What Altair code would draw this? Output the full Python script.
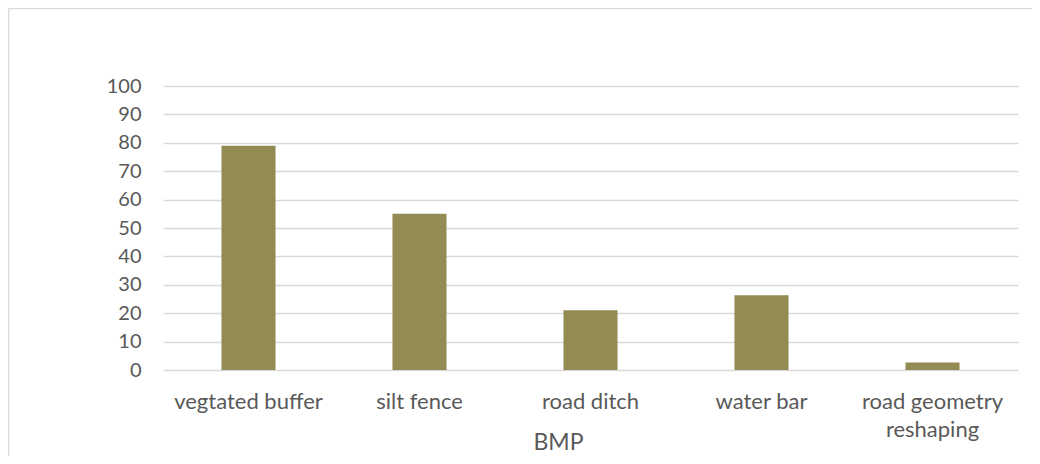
import altair as alt
import pandas as pd

categories = ["vegtated buffer", "silt fence", "road ditch", "water bar", "road geometry reshaping"]
values = [79, 55, 21, 26.3, 2.6]

df = pd.DataFrame({"BMP": categories, "value": values})

FONT = "Lato"
W, H = 855, 284
PL, PT, PB, PR = 155, 78, 86, 14

bars = alt.Chart(df).mark_bar(color="#948a54").encode(
    x=alt.X(
        "BMP:N",
        sort=categories,
        scale=alt.Scale(paddingInner=0.684, paddingOuter=0.342),
        axis=alt.Axis(
            title="BMP",
            labelAngle=0,
            labelFont=FONT,
            labelFontSize=22,
            labelColor="#595959",
            labelPadding=21,
            labelLineHeight=28,
            labelExpr="datum.value == 'road geometry reshaping' ? ['road geometry', 'reshaping'] : datum.value",
            titleFont=FONT,
            titleFontSize=23,
            titleFontWeight="normal",
            titleColor="#595959",
            titleX=395,
            titleY=79,
            titleBaseline="alphabetic",
            domain=False,
            ticks=False,
            grid=False,
        ),
    ),
    y=alt.Y(
        "value:Q",
        scale=alt.Scale(domain=[0, 100]),
        axis=alt.Axis(
            title=None,
            values=list(range(0, 101, 10)),
            labelFont=FONT,
            labelFontSize=20,
            labelColor="#595959",
            labelPadding=22,
            domain=False,
            ticks=False,
            grid=True,
            gridColor="#d9d9d9",
            gridWidth=1.5,
        ),
    ),
)

frame = pd.DataFrame({"a": [0]})
top_line = alt.Chart(frame).mark_rule(color="#d9d9d9", strokeWidth=1.5).encode(
    x=alt.value(-PL + 0.5),
    x2=alt.value(W + PR),
    y=alt.value(-PT + 0.5),
)
left_line = alt.Chart(frame).mark_rule(color="#d9d9d9", strokeWidth=1.5).encode(
    x=alt.value(-PL + 0.5),
    y=alt.value(-PT + 0.5),
    y2=alt.value(H + PB),
)

chart = alt.layer(top_line, left_line, bars).properties(
    width=W,
    height=H,
    autosize=alt.AutoSizeParams(type="none"),
    padding={"left": PL, "top": PT, "right": PR, "bottom": PB},
).configure_view(stroke=None)

chart.save("out.html", embed_options={"renderer": "svg", "actions": False})
